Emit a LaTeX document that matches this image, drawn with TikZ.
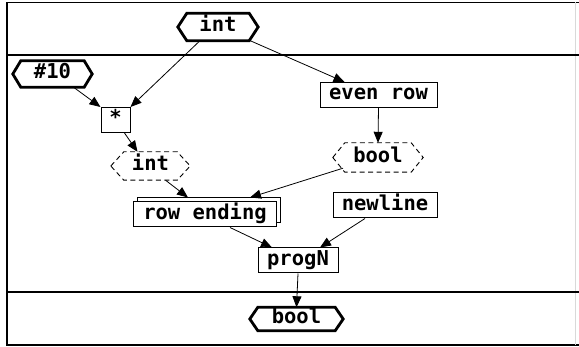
\documentclass[tikz,border=0pt]{standalone}
\usepackage{fontspec}
\setmainfont{DejaVu Sans Mono}
\usetikzlibrary{arrows.meta}
\newcommand\hexpath[3]{% node, offset, style
  \draw[#3] (#1.west) -- ([xshift=#2pt]#1.north west) -- ([xshift=-#2pt]#1.north east)
    -- (#1.east) -- ([xshift=-#2pt]#1.south east) -- ([xshift=#2pt]#1.south west) -- cycle;}
\tikzset{
  lbl/.style={font=\fontsize{20.5}{20.5}\selectfont\bfseries, text height=13.5pt, text depth=3.5pt, inner sep=0pt, anchor=center},
  boxnode/.style={lbl, draw, line width=1pt, fill=white, minimum height=25pt},
  hexnode/.style={lbl},
  thickhex/.style={line width=2.8pt, line join=miter},
  dashhex/.style={line width=0.9pt, dash pattern=on 5pt off 3.5pt},
  conn/.style={line width=0.8pt, -{Triangle[length=11pt,width=9pt]}},
  frame/.style={line width=1.6pt},
  sep/.style={line width=1.1pt}
}
\begin{document}
\begin{tikzpicture}[x=1pt,y=-1pt]
\useasboundingbox (0,0) rectangle (579,347);
% frame
\draw[frame] (579,2.5) -- (7,2.5) -- (7,345) -- (579,345);
\draw[line width=0.6pt, black!15] (575,2.5) -- (575,345);
\draw[sep] (7,55) -- (579,55);
\draw[sep] (7,292) -- (579,292);
% nodes
\node[hexnode, minimum width=80pt, minimum height=27pt] (topint) at (218,27) {int};
\node[hexnode, minimum width=79pt, minimum height=26pt] (ten) at (52.5,74) {\#10};
\node[boxnode, minimum width=29pt] (star) at (115.5,120) {*};
\node[boxnode, minimum width=117pt] (er) at (378.5,95) {even row};
\node[hexnode, minimum width=79pt, minimum height=28pt] (intd) at (150.5,166) {int};
\node[hexnode, minimum width=90pt, minimum height=29pt] (boold) at (378,157.5) {bool};
\node[boxnode, minimum width=143pt] (reback) at (209,210.5) {};
\node[boxnode, minimum width=143pt] (re) at (205,214.5) {row ending};
\node[boxnode, minimum width=104pt] (nl) at (385,205.5) {newline};
\node[boxnode, minimum width=80pt] (pn) at (298,260.5) {progN};
\node[hexnode, minimum width=93pt, minimum height=23pt] (bb) at (296.5,319) {bool};
% hexagon outlines
\hexpath{topint}{9}{thickhex}
\hexpath{ten}{8}{thickhex}
\hexpath{bb}{8}{thickhex}
\hexpath{intd}{13}{dashhex}
\hexpath{boold}{12}{dashhex}
% connectors
\draw[conn] ([xshift=-18pt]topint.south) -- (star.north east);
\draw[conn] ([xshift=-8pt]topint.south east) -- ([xshift=25pt]er.north west);
\draw[conn] ([xshift=21pt]ten.south) -- (star.north west);
\draw[conn] ([xshift=9pt]star.south) -- ([xshift=-13pt]intd.north);
\draw[conn] (er.south) -- (boold.north);
\draw[conn] ([xshift=15pt]intd.south) -- ([xshift=-17pt,yshift=4pt]re.north);
\draw[conn] ([xshift=-35pt,yshift=4pt]boold.south) -- ([xshift=45pt,yshift=4pt]re.north);
\draw[conn] ([xshift=25pt]re.south) -- ([xshift=-26pt]pn.north);
\draw[conn] ([xshift=-20pt]nl.south) -- ([xshift=22pt]pn.north);
\draw[conn] (pn.south) -- (bb.north);
\end{tikzpicture}
\end{document}
